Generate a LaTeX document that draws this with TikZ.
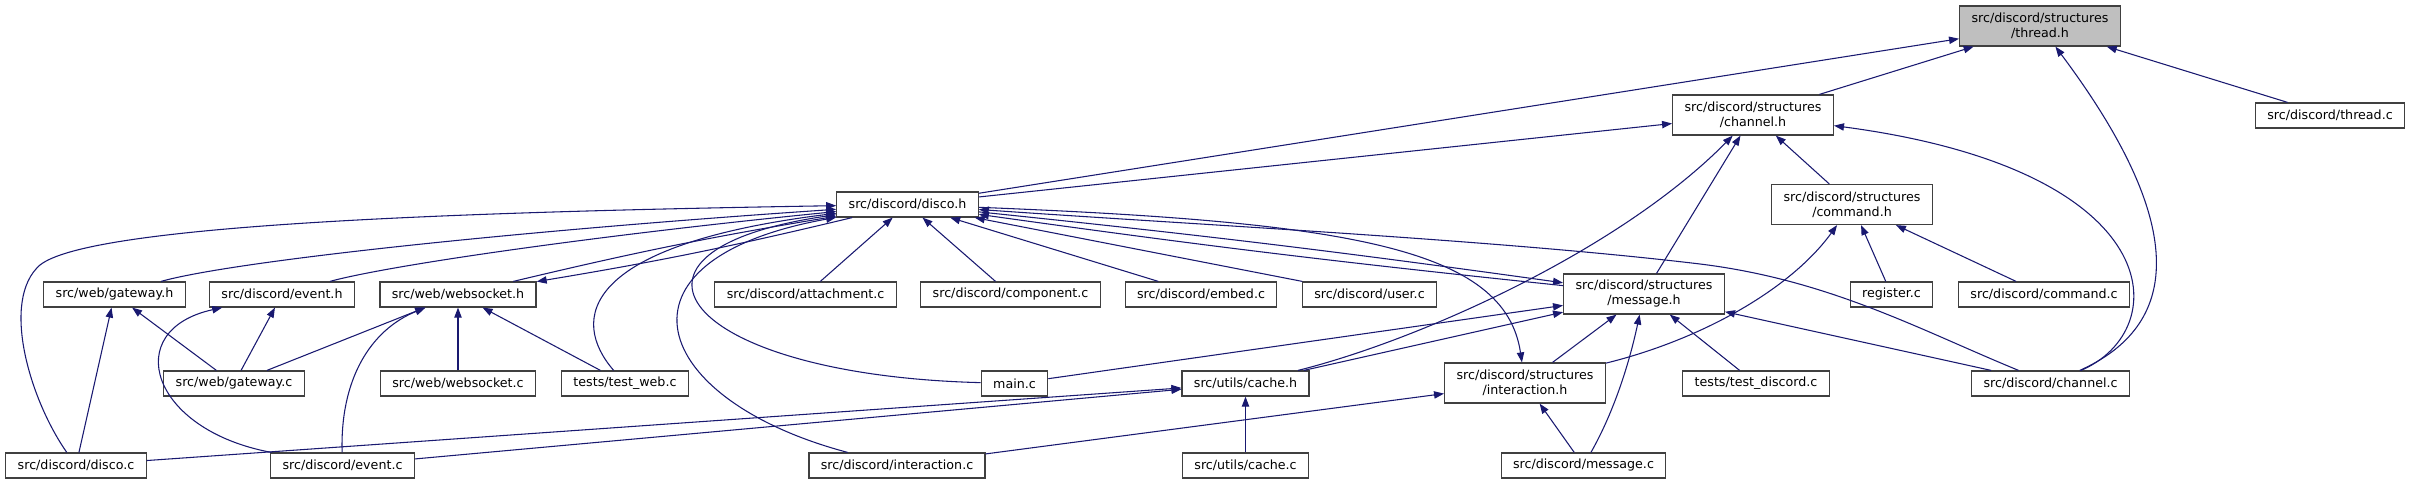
\documentclass[tikz,border=0pt]{standalone}
\usepackage{fontspec}
\newfontfamily\graphfont{DejaVu Sans}
\usetikzlibrary{arrows.meta}
\definecolor{edgeblue}{HTML}{191970}
\definecolor{curgray}{HTML}{BFBFBF}

\begin{document}
\begin{tikzpicture}[x=0.75pt, y=-0.75pt, >={Triangle[length=7.5pt,width=5.5pt]},
  filebox/.style={draw=black!75, line width=0.9pt, fill=white, align=center,
    font=\graphfont\fontsize{9.5}{11.25}\selectfont,
    inner xsep=8.9pt, inner ysep=3pt, minimum height=18.75pt},
  twoline/.style={minimum height=30pt},
  dep/.style={->, draw=edgeblue, line width=0.8pt}]
\useasboundingbox (0,0) rectangle (2411,484);

% top
\node[filebox,twoline,fill=curgray] (threadh) at (2040,26) {src/discord/structures\\/thread.h};
\node[filebox] (threadc) at (2330,115.5) {src/discord/thread.c};
\node[filebox,twoline] (channelh) at (1753,115) {src/discord/structures\\/channel.h};
\node[filebox] (discoh) at (907.5,204.5) {src/discord/disco.h};
\node[filebox,twoline] (commandh) at (1852,204.5) {src/discord/structures\\/command.h};

% middle row
\node[filebox] (gatewayh) at (114.5,294.5) {src/web/gateway.h};
\node[filebox] (eventh) at (282,294.5) {src/discord/event.h};
\node[filebox] (websocketh) at (458,294.5) {src/web/websocket.h};
\node[filebox] (attachmentc) at (805.5,294.5) {src/discord/attachment.c};
\node[filebox] (componentc) at (1010.5,294.5) {src/discord/component.c};
\node[filebox] (embedc) at (1201,294.5) {src/discord/embed.c};
\node[filebox] (userc) at (1369.5,294.5) {src/discord/user.c};
\node[filebox,twoline] (messageh) at (1644,294) {src/discord/structures\\/message.h};
\node[filebox] (registerc) at (1891.5,294.5) {register.c};
\node[filebox] (commandc) at (2044,294.5) {src/discord/command.c};

\node[filebox] (gatewayc) at (234,383.5) {src/web/gateway.c};
\node[filebox] (websocketc) at (458,383.5) {src/web/websocket.c};
\node[filebox] (testwebc) at (625,383.5) {tests/test\_web.c};
\node[filebox] (mainc) at (1014.5,383.5) {main.c};
\node[filebox] (cacheh) at (1245.5,383.5) {src/utils/cache.h};
\node[filebox,twoline] (interactionh) at (1525,383) {src/discord/structures\\/interaction.h};
\node[filebox] (testdiscordc) at (1756,383.5) {tests/test\_discord.c};
\node[filebox] (channelc) at (2050.5,383.5) {src/discord/channel.c};

% bottom
\node[filebox] (discoc) at (76,465.5) {src/discord/disco.c};
\node[filebox] (eventc) at (342.5,465.5) {src/discord/event.c};
\node[filebox] (interactionc) at (897,465.5) {src/discord/interaction.c};
\node[filebox] (cachec) at (1245.5,465.5) {src/utils/cache.c};
\node[filebox] (messagec) at (1583.5,465.5) {src/discord/message.c};

% straight includes
\foreach \a/\b in {threadc/threadh, channelh/threadh, discoh/threadh,
    discoh/channelh, messageh/channelh, commandh/channelh,
    registerc/commandh, commandc/commandh,
    attachmentc/discoh, componentc/discoh, embedc/discoh, userc/discoh,
    gatewayc/gatewayh, discoc/gatewayh, gatewayc/eventh,
    gatewayc/websocketh, websocketc/websocketh, testwebc/websocketh,
    mainc/messageh, cacheh/messageh, interactionh/messageh,
    testdiscordc/messageh, channelc/messageh,
    discoc/cacheh, eventc/cacheh, cachec/cacheh,
    interactionc/interactionh, messagec/interactionh}
{
    \draw[dep] (\a) -- (\b);
}

% both ways
\draw[dep] (websocketh) to[bend left=2] (discoh);
\draw[dep] (discoh) to[bend left=2] (websocketh);
\draw[dep] (messageh) to[bend left=1] (discoh);
\draw[dep] (discoh) to[bend left=1] (messageh);

% curved includes
\draw[dep] (discoc) .. controls (30,400) and (0,300) .. (40,265)
    .. controls (90,225) and (450,212) .. (discoh);
\draw[dep] (gatewayh) .. controls (230,262) and (500,232) .. (discoh);
\draw[dep] (eventh) .. controls (390,265) and (600,235) .. (discoh);
\draw[dep] (testwebc) .. controls (570,320) and (580,245) .. (discoh);
\draw[dep] (interactionc) .. controls (650,400) and (600,260) .. (discoh);
\draw[dep] (mainc) .. controls (680,375) and (590,250) .. (discoh);
\draw[dep] (discoh) .. controls (1350,222) and (1505,248) .. (interactionh);
\draw[dep] (channelc) .. controls (1920,330) and (1830,280) .. (1700,264)
    .. controls (1500,240) and (1200,225) .. (discoh);
\draw[dep] (channelc) .. controls (2170,330) and (2200,240) .. (threadh);
\draw[dep] (channelc) .. controls (2175,330) and (2170,170) .. (channelh);
\draw[dep] (cacheh) .. controls (1420,340) and (1620,250) .. (channelh);
\draw[dep] (interactionh) .. controls (1700,340) and (1790,290) .. (commandh);
\draw[dep] (eventc) .. controls (150,430) and (120,330) .. (eventh);
\draw[dep] (eventc) .. controls (340,380) and (370,330) .. (websocketh);
\draw[dep] (messagec) .. controls (1615,410) and (1630,360) .. (messageh);

\end{tikzpicture}
\end{document}
